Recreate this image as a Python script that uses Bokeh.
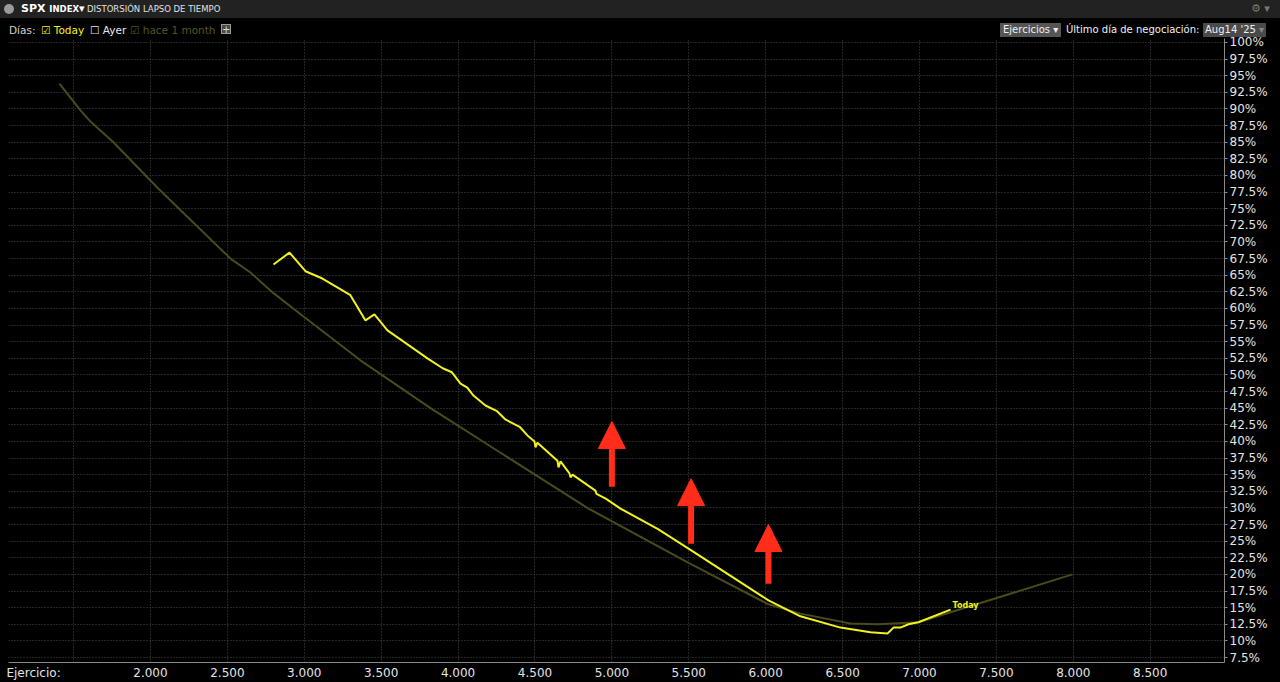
from bokeh.plotting import figure
from bokeh.models import (Range1d, FixedTicker, Arrow, NormalHead,
                          ColumnDataSource, Div)
from bokeh.layouts import column
from bokeh.embed import file_html
from bokeh.resources import INLINE
from bokeh.core.properties import value

# ---------------- data ----------------
month_strike = [1408, 1545, 1610, 1759, 2052, 2520, 2650, 2800, 2995, 3365,
                3821, 4276, 4848, 5511, 6018, 6226, 6551, 6727, 6993, 7995]
month_vol = [93.8, 89.8, 88.1, 85.0, 78.0, 67.5, 65.4, 62.3, 58.8, 52.2,
             45.0, 38.3, 29.9, 21.6, 15.5, 14.1, 12.6, 12.5, 12.8, 20.0]

today_strike = [2800, 2904, 3008, 3118, 3300, 3398, 3456, 3541, 3801, 3900,
                3960, 4016, 4060, 4100, 4178, 4250, 4308, 4400, 4451, 4497,
                4503, 4516, 4646, 4653, 4666, 4724, 4731, 4744, 4893, 4900,
                4960, 5056, 5300, 5511, 6018, 6226, 6486, 6681, 6792, 6831,
                6876, 6928, 6993, 7202]
today_vol = [66.6, 68.4, 65.6, 64.5, 62.0, 58.2, 59.1, 56.7, 52.5, 51.0,
             50.4, 48.7, 48.1, 46.9, 45.4, 44.6, 43.3, 42.2, 40.9, 40.0,
             39.1, 39.8, 37.1, 36.1, 37.0, 35.2, 34.6, 35.0, 32.6, 32.1,
             31.4, 29.9, 26.8, 23.7, 16.1, 13.7, 12.0, 11.3, 11.1, 12.0,
             12.0, 12.5, 12.8, 14.7]

arrow_strike = [5000, 5515, 6018]
arrow_base = [33.2, 24.6, 18.6]
arrow_tip = [43.0, 34.4, 27.5]

x_ticks = [1240, 2000, 2500, 3000, 3500, 4000, 4500, 5000, 5500, 6000, 6500,
           7000, 7500, 8000, 8500]
x_tick_labels = ["Ejercicio:", "2.000", "2.500", "3.000", "3.500", "4.000",
                 "4.500", "5.000", "5.500", "6.000", "6.500", "7.000", "7.500",
                 "8.000", "8.500"]
x_grid = [1500, 2000, 2500, 3000, 3500, 4000, 4500, 5000, 5500, 6000, 6500,
          7000, 7500, 8000, 8500]
y_ticks = [7.5 + 2.5 * i for i in range(38)]
y_tick_labels = ["7.5%", "10%", "12.5%", "15%", "17.5%", "20%", "22.5%", "25%",
                 "27.5%", "30%", "32.5%", "35%", "37.5%", "40%", "42.5%", "45%",
                 "47.5%", "50%", "52.5%", "55%", "57.5%", "60%", "62.5%", "65%",
                 "67.5%", "70%", "72.5%", "75%", "77.5%", "80%", "82.5%", "85%",
                 "87.5%", "90%", "92.5%", "95%", "97.5%", "100%"]

X0, X1 = 1077, 8983
Y0, Y1 = 6.75, 100.6
FONT = "DejaVu Sans"
YELLOW = "#f2f21e"
OLIVE = "#4a4a1c"
RED = "#ff2d1a"

# ---------------- header (two rows) ----------------
def span(left, top, inner, style=""):
    return ('<span style="position:absolute;left:%dpx;top:%dpx;white-space:nowrap;%s">%s</span>'
            % (left, top, style, inner))

row2 = "font-size:10.5px;line-height:14px;"
row2b = "font-size:10px;line-height:14px;"
hdr = (
    '<div style="position:relative;width:1280px;height:38px;background:#000;'
    'font-family:\'DejaVu Sans\';overflow:hidden">'
    '<div style="position:absolute;left:0;top:0;width:1280px;height:18px;background:#222222"></div>'
    + span(4, 4, "", "width:10px;height:10px;border-radius:50%;background:#9a9a9a")
    + span(21, 2, 'SPX <span style="font-size:8.5px">INDEX</span>&#9662;',
           "color:#fff;font-weight:bold;font-size:11px;line-height:14px")
    + span(87, 3, "DISTORSI&Oacute;N LAPSO DE TIEMPO",
           "color:#e0e0e0;font-size:8.5px;line-height:12px")
    + span(1251, 2, "&#9881; &#9662;", "color:#7a7a7a;font-size:11px;line-height:14px")
    + span(9, 23, "D&iacute;as:", row2 + "color:#d0d0d0")
    + span(41, 23, "&#9745; Today", row2 + "color:" + YELLOW)
    + span(90, 23, "&#9744; Ayer", row2 + "color:#e8e8e8")
    + span(130, 23, "&#9745; hace 1 month", row2 + "color:#55551f")
    + span(221, 24, "+", "width:10px;height:10px;border:1px solid #9a9a9a;background:#4a4a4a;"
           "color:#ddd;font-size:10px;line-height:10px;text-align:center")
    + span(1000, 23, "Ejercicios &#9662;", row2b + "color:#f0f0f0;background:#555;padding:0 3px")
    + span(1066, 23, "&Uacute;ltimo d&iacute;a de negociaci&oacute;n:", row2b + "color:#f0f0f0")
    + span(1203, 23, 'Aug14 \'25 <span style="color:#888">&#9662;</span>',
           row2b + "color:#f0f0f0;background:#4a4a4a;padding:0 2px")
    + '</div>'
)
header = Div(text=hdr, width=1280, height=38, margin=(0, 0, 0, 0))

# ---------------- figure ----------------
p = figure(width=1280, height=650, x_range=Range1d(X0, X1), y_range=Range1d(Y0, Y1),
           y_axis_location="right", output_backend="svg", toolbar_location=None,
           background_fill_color="#000000", border_fill_color="#000000",
           border_fill_alpha=0.0,
           outline_line_color=None, min_border_left=8, min_border_right=56,
           min_border_top=6, min_border_bottom=20, margin=(-6, 0, 0, 0))

p.xaxis.ticker = FixedTicker(ticks=x_ticks)
p.xaxis.major_label_overrides = dict(zip(x_ticks, x_tick_labels))
p.yaxis.ticker = FixedTicker(ticks=y_ticks)
p.yaxis.major_label_overrides = dict(zip(y_ticks, y_tick_labels))
p.xgrid.ticker = FixedTicker(ticks=x_grid)
p.ygrid.ticker = FixedTicker(ticks=y_ticks)
for g in (p.xgrid, p.ygrid):
    g.grid_line_color = "#4a4a4a"
    g.grid_line_dash = "1 2"
    g.grid_line_width = 1

for ax in (p.xaxis, p.yaxis):
    ax.axis_line_color = "#8a8a8a"
    ax.major_tick_line_color = None
    ax.minor_tick_line_color = None
    ax.major_tick_in = 0
    ax.major_label_text_color = "#e4e4e4"
    ax.major_label_text_font = FONT
    ax.major_label_text_font_size = "12px"
p.xaxis.major_tick_out = 0
p.xaxis.major_label_standoff = 3
p.yaxis.major_tick_line_color = "#8a8a8a"
p.yaxis.major_tick_out = 3
p.yaxis.major_label_standoff = 2

p.line(month_strike, month_vol, line_color=OLIVE, line_width=2)
p.line(today_strike, today_vol, line_color=YELLOW, line_width=2)

p.text(x=[today_strike[-1]], y=[today_vol[-1]], text=["Today"],
       text_color=YELLOW, text_font=value(FONT), text_font_size="8px",
       text_font_style="bold", text_baseline="middle", text_align="left",
       x_offset=2, y_offset=-4)

arrows = ColumnDataSource(dict(x=arrow_strike, y0=arrow_base, y1=arrow_tip))
p.add_layout(Arrow(end=NormalHead(size=27, fill_color=RED, line_color=RED, line_width=1),
                   x_start="x", y_start="y0", x_end="x", y_end="y1",
                   line_color=RED, line_width=6, source=arrows))

layout = column(header, p, spacing=0)

html = file_html(layout, INLINE, title="SPX INDEX - Distorsión lapso de tiempo")
html = html.replace("<head>", "<head><style>html,body{margin:0;padding:0;background:#000;"
                    "overflow:hidden}</style>", 1)
open("out.html", "w").write(html)
